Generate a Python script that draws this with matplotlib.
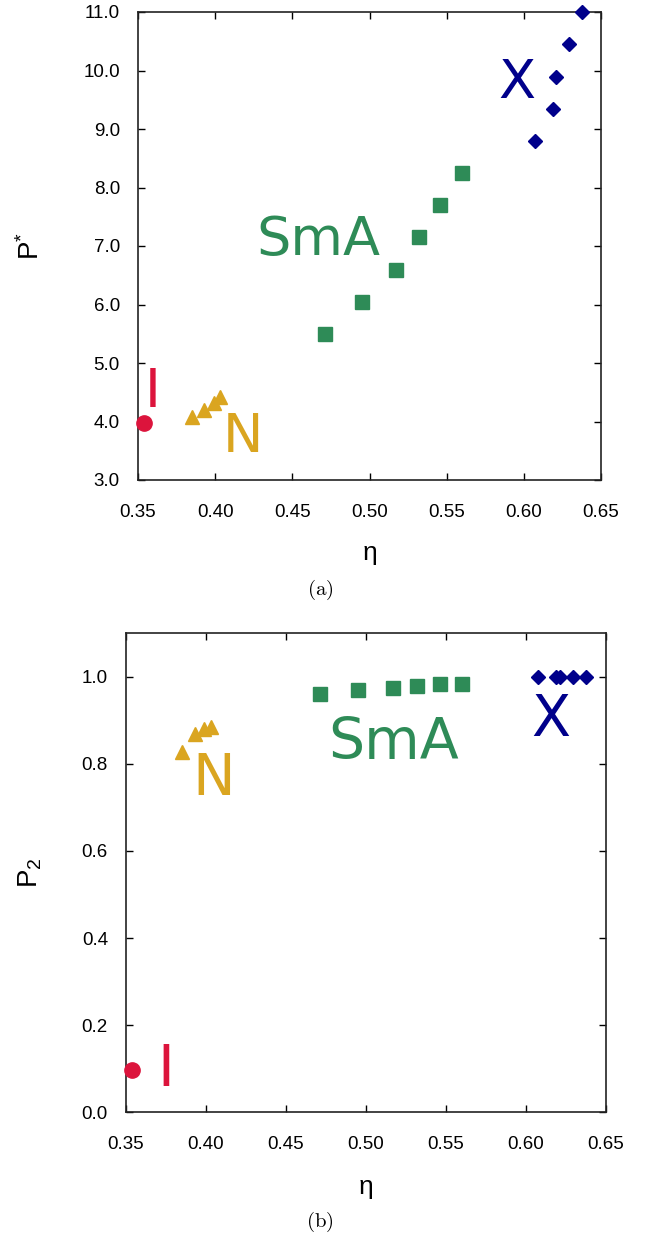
import numpy as np
import matplotlib
matplotlib.use("Agg")
import matplotlib.pyplot as plt
from matplotlib.ticker import FormatStrFormatter

plt.rcParams['font.family'] = ['Liberation Sans', 'DejaVu Sans']
plt.rcParams['mathtext.fontset'] = 'custom'
plt.rcParams['mathtext.rm'] = 'Liberation Sans'
plt.rcParams['mathtext.it'] = 'Liberation Sans'

# packing fraction and measured quantities for each phase
eta_I = [0.354]
Pstar_I = [3.97]
P2_I = [0.096]

eta_N = [0.385, 0.393, 0.399, 0.403]
Pstar_N = [4.08, 4.20, 4.31, 4.42]
P2_N = [0.826, 0.868, 0.879, 0.885]

eta_SmA = [0.471, 0.495, 0.517, 0.532, 0.546, 0.560]
Pstar_SmA = [5.50, 6.04, 6.59, 7.15, 7.70, 8.25]
P2_SmA = [0.961, 0.970, 0.974, 0.979, 0.983, 0.984]

eta_X = [0.6075, 0.619, 0.621, 0.6295, 0.6375]
Pstar_X = [8.79, 9.35, 9.89, 10.45, 11.0]
P2_X = [0.998, 0.998, 0.998, 0.998, 0.998]

xticks = [0.35, 0.40, 0.45, 0.50, 0.55, 0.60, 0.65]
yticks_a = [3, 4, 5, 6, 7, 8, 9, 10, 11]
yticks_b = [0.0, 0.2, 0.4, 0.6, 0.8, 1.0]

c_I = "#DC143C"
c_N = "#DAA520"
c_SmA = "#2E8B57"
c_X = "#00008B"

fig = plt.figure(figsize=(6.59, 12.41), dpi=100)
ax0 = fig.add_axes([138/659, 1-480/1241, (601-138)/659, 468/1241])
ax1 = fig.add_axes([126/659, 1-1112.3/1241, (606-126)/659, (1112.3-633)/1241])


def draw_phases(ax, yI, yN, ySmA, yX):
    kw = dict(linestyle="none", clip_on=False, zorder=3)
    ax.plot(eta_I, yI, marker="o", ms=11, color=c_I, **kw)
    ax.plot(eta_N, yN, marker="^", ms=9.5, color=c_N, **kw)
    ax.plot(eta_SmA, ySmA, marker="s", ms=10, color=c_SmA, **kw)
    ax.plot(eta_X, yX, marker="D", ms=7, color=c_X, **kw)


def style(ax, yticks, ylabel):
    ax.set_xlim(0.35, 0.65)
    ax.set_xticks(xticks)
    ax.set_yticks(yticks)
    ax.xaxis.set_major_formatter(FormatStrFormatter("%.2f"))
    ax.yaxis.set_major_formatter(FormatStrFormatter("%.1f"))
    ax.tick_params(direction="in", length=5, width=1, labelsize=13.5,
                   top=True, right=True)
    ax.tick_params(axis="x", pad=17)
    ax.tick_params(axis="y", pad=13)
    for s in ax.spines.values():
        s.set_linewidth(1.2)
        s.set_color("#222222")
    ax.set_xlabel("η", fontsize=19)
    ax.set_ylabel(ylabel, fontsize=20)


draw_phases(ax0, Pstar_I, Pstar_N, Pstar_SmA, Pstar_X)
ax0.set_ylim(3, 11)
style(ax0, yticks_a, r"P$^{*}$")
ax0.xaxis.set_label_coords(0.5, -0.13)
ax0.yaxis.set_label_coords(-0.20, 0.5)

lab = dict(family="DejaVu Sans", ha="center", va="baseline", fontsize=39)
ax0.text(0.3597, 4.248, "I", color=c_I, **lab)
ax0.text(0.418, 3.479, "N", color=c_N, **lab)
ax0.text(0.4667, 6.846, "SmA", color=c_SmA, **lab)
ax0.text(0.5956, 9.53, "X", color=c_X, **lab)

draw_phases(ax1, P2_I, P2_N, P2_SmA, P2_X)
ax1.set_ylim(0, 1.1)
style(ax1, yticks_b, r"P$_{2}$")
ax1.xaxis.set_label_coords(0.5, -0.13)
ax1.yaxis.set_label_coords(-0.17, 0.5)

lab["fontsize"] = 41
ax1.text(0.3748, 0.0615, "I", color=c_I, **lab)
ax1.text(0.4046, 0.729, "N", color=c_N, **lab)
ax1.text(0.5173, 0.8106, "SmA", color=c_SmA, **lab)
ax1.text(0.6158, 0.864, "X", color=c_X, **lab)

fig.text(320/659, 1-590/1241, r"$\mathrm{(a)}$", math_fontfamily="cm",
         ha="center", va="center", fontsize=15)
fig.text(320/659, 1-1222/1241, r"$\mathrm{(b)}$", math_fontfamily="cm",
         ha="center", va="center", fontsize=15)

plt.savefig("out.png", dpi=100)
